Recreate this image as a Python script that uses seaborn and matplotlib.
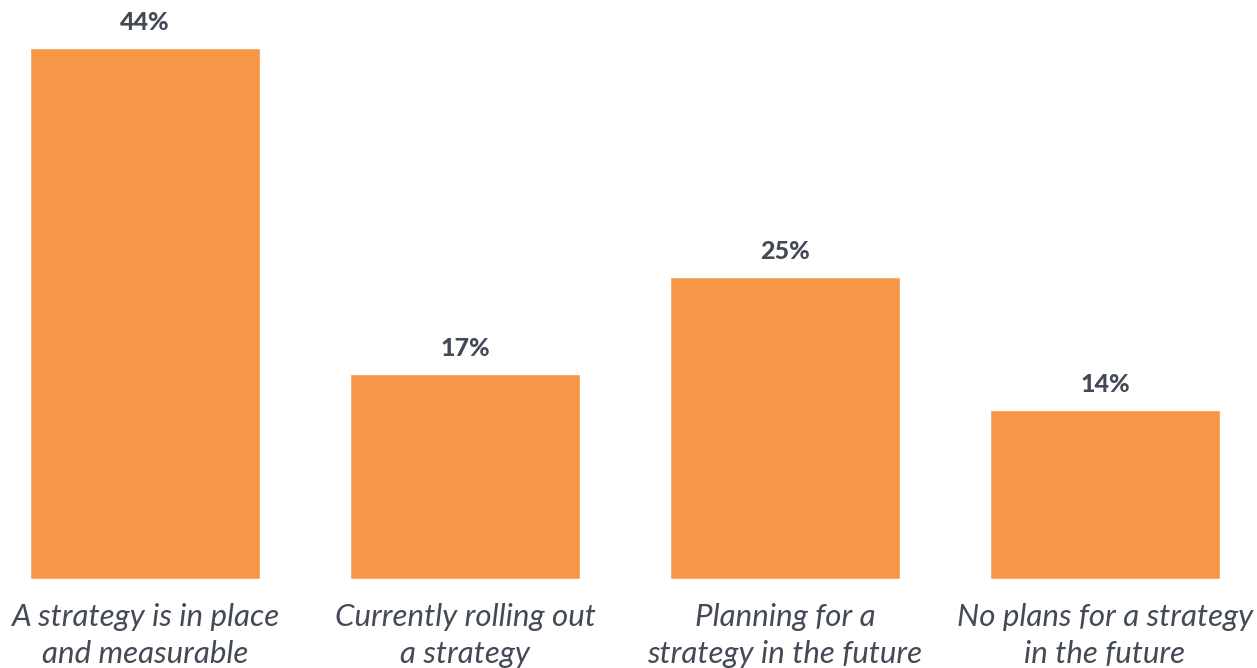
import matplotlib
matplotlib.use("Agg")
import matplotlib.pyplot as plt
import seaborn as sns
import pandas as pd

categories = [
    "A strategy is in place\nand measurable",
    "Currently rolling out\na strategy",
    "Planning for a\nstrategy in the future",
    "No plans for a strategy\nin the future",
]
values = [44, 17, 25, 14]
value_labels = ["44%", "17%", "25%", "14%"]

BAR_COLOR = "#F79646"
TEXT_COLOR = "#434A55"

sns.set_theme(style="white")
plt.rcParams["font.family"] = ["Lato", "DejaVu Sans"]

df = pd.DataFrame({"category": categories, "value": values})

fig = plt.figure(figsize=(12.57, 6.68), dpi=100)
ax = fig.add_axes([0, 89 / 668, 1, 579 / 668])

sns.barplot(data=df, x="category", y="value", color=BAR_COLOR,
            saturation=1, width=0.716, ax=ax)

ax.set_xlim(-145 / 320, (1257 - 145) / 320)
ax.set_ylim(0, 47.97)

for container in ax.containers:
    ax.bar_label(container, labels=value_labels, padding=10,
                 fontsize=18, fontweight="black", color=TEXT_COLOR)

ax.set_xlabel("")
ax.set_ylabel("")
ax.set_yticks([])
ax.tick_params(axis="x", length=0, pad=17)
for lbl in ax.get_xticklabels():
    lbl.set_fontsize(22.5)
    lbl.set_fontstyle("italic")
    lbl.set_color(TEXT_COLOR)
    lbl.set_linespacing(1.4)
sns.despine(ax=ax, left=True, bottom=True)

fig.savefig("out.png", dpi=100)
